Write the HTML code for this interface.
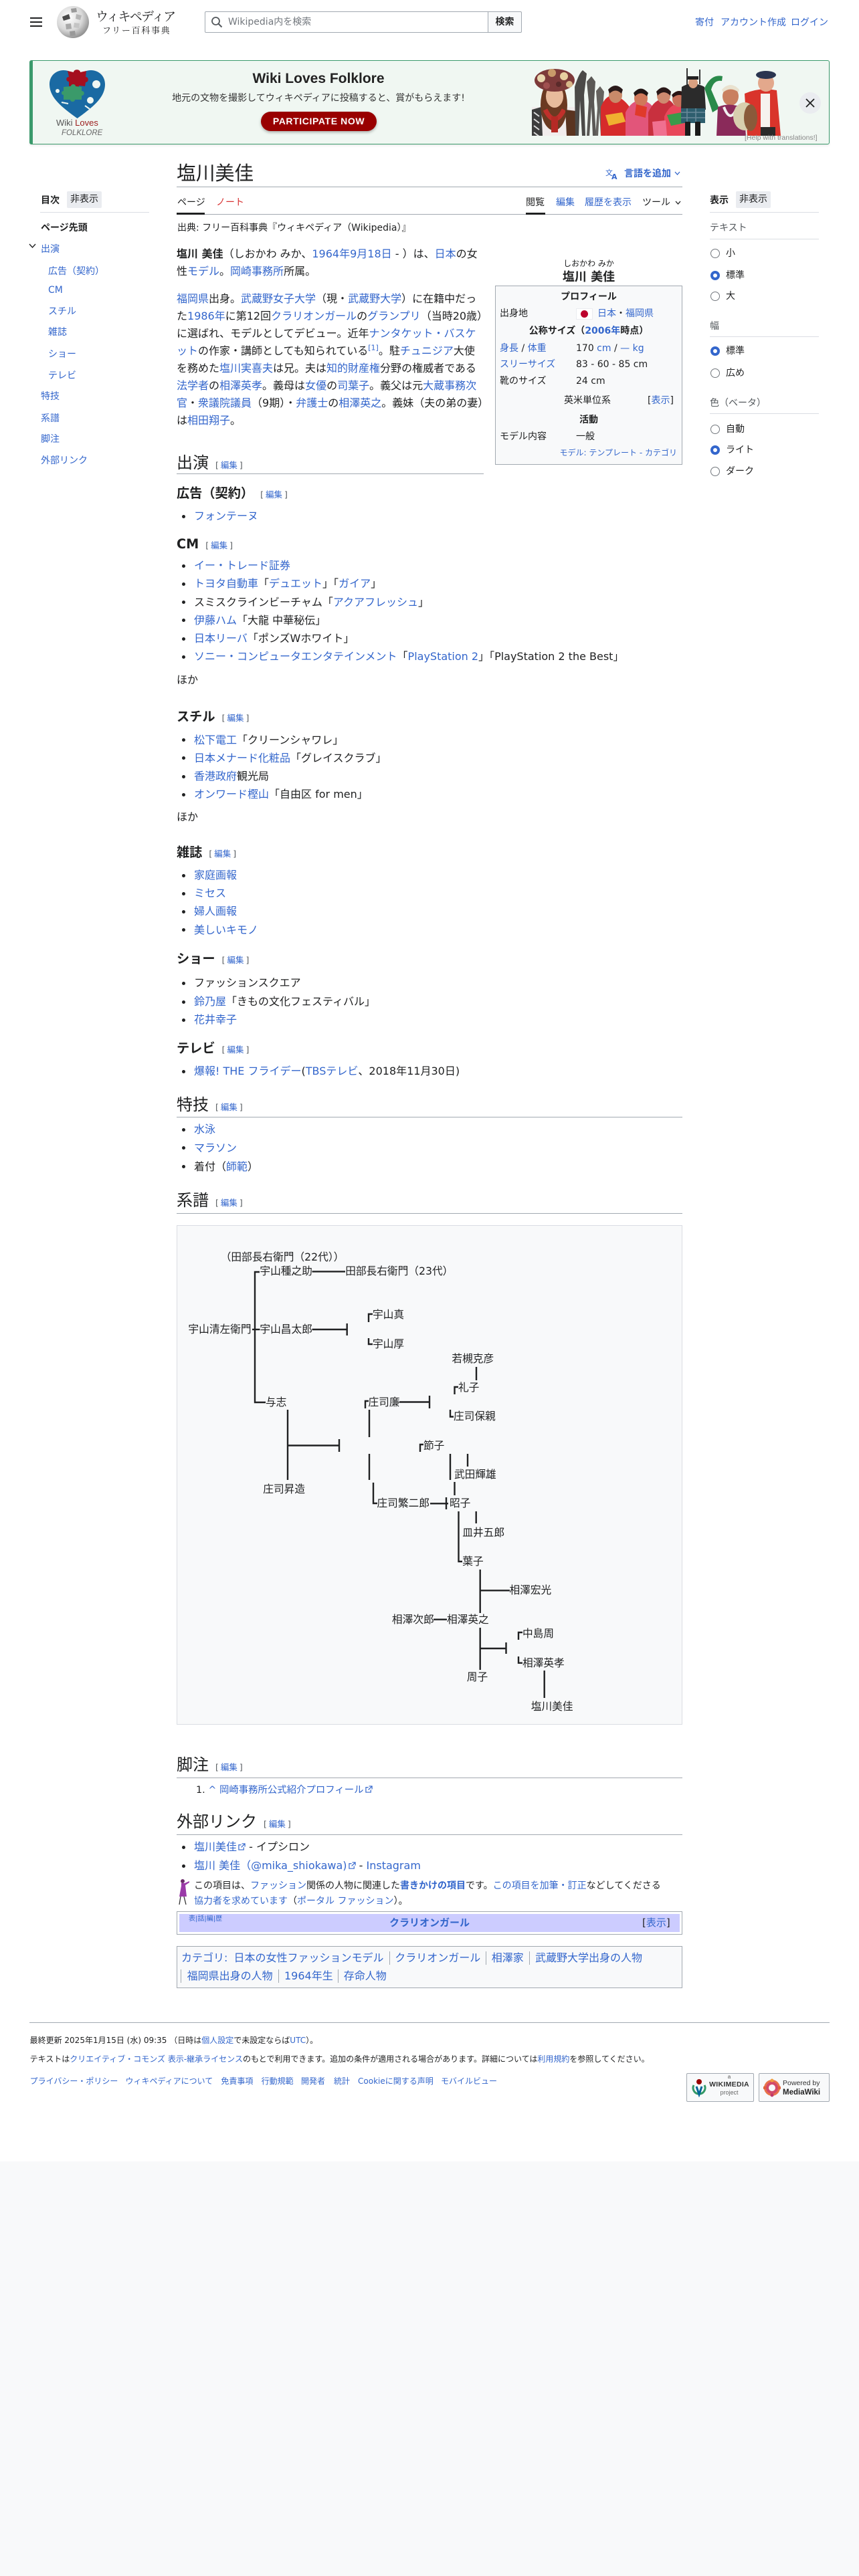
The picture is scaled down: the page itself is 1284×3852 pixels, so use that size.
<!DOCTYPE html>
<html lang="ja"><head><meta charset="utf-8"><title>塩川美佳 - Wikipedia</title>
<style>
html,body{margin:0;padding:0}
body{background:#f8f9fa;width:1284px;height:3852px;font-family:"DejaVu Sans","Noto Sans CJK JP",sans-serif;color:#202122;overflow:hidden}
#pg{position:relative;width:1284px;height:3232px;background:#fff}
.t{position:absolute;white-space:nowrap}
.b{color:#36c}
.r{color:#d73333}
.g{color:#54595d}
.s14{font-size:14px;line-height:20px}
.s16{font-size:16px;line-height:26px}
.s12{font-size:12px;line-height:16px}
.h2{font-family:"Noto Sans CJK JP","DejaVu Sans",sans-serif;font-size:24px;line-height:30px}
.h3{font-size:19.2px;line-height:24px;font-weight:bold}
.es{font-size:12.5px;font-weight:normal;margin-left:10px;font-family:"DejaVu Sans","Noto Sans CJK JP",sans-serif}
.es .b{margin:0 3px}
.hr{position:absolute;height:1px;background:#a2a9b1}
.sl{position:absolute;height:1px;background:#dadde3}
.bl{position:absolute;width:5px;height:5px;border-radius:50%;background:#202122;left:272px}
.tr{position:absolute;white-space:nowrap;font-size:15.7px;line-height:20px}
.rd{position:absolute;left:1062px;width:14px;height:14px;box-sizing:border-box;border-radius:50%;border:1px solid #72777d;background:#fff}
.rd.on{border:4px solid #36c}
.btn{position:absolute;background:#eaecf0;border-radius:2px;text-align:center;font-size:14px;line-height:25px;height:25px}
sup{font-size:11px;line-height:0}
</style></head><body><div id="pg">

<!-- HEADER -->
<div class="t" style="left:45px;top:26px;width:18px;height:2px;background:#202122"></div>
<div class="t" style="left:45px;top:32px;width:18px;height:2px;background:#202122"></div>
<div class="t" style="left:45px;top:38px;width:18px;height:2px;background:#202122"></div>
<svg class="t" style="left:84px;top:8px" width="50" height="50" viewBox="0 0 50 50">
<defs><radialGradient id="gl" cx="0.38" cy="0.35" r="0.75"><stop offset="0" stop-color="#ffffff"/><stop offset="0.55" stop-color="#d8d8d8"/><stop offset="1" stop-color="#7d7d7d"/></radialGradient></defs>
<circle cx="25" cy="25" r="24" fill="url(#gl)"/>
<path d="M9 17 L19 13 L21 20 L11 23 Z" fill="#4a4a4a"/>
<path d="M22 5 L30 4 L31 10 L23 11 Z" fill="#9a9a9a"/>
<path d="M30 13 L38 15 L36 22 L29 20 Z" fill="#b5b5b5"/>
<path d="M14 28 L22 27 L23 35 L15 36 Z" fill="#a8a8a8"/>
<path d="M27 26 L35 27 L34 34 L26 33 Z" fill="#c4c4c4"/>
<path d="M20 39 L28 38 L29 45 L21 46 Z" fill="#999"/>
</svg>
<div class="t" style="left:143px;top:12px;font-family:'Noto Serif CJK SC','Noto Serif CJK JP',serif;font-size:19px;line-height:24px;letter-spacing:-1.7px;color:#202122">ウィキペディア</div>
<div class="t" style="left:153px;top:37px;font-family:'Noto Serif CJK SC','Noto Serif CJK JP',serif;font-size:13px;line-height:16px;letter-spacing:1.7px;color:#202122">フリー百科事典</div>

<div class="t" style="left:306px;top:17px;width:424px;height:32px;box-sizing:border-box;border:1px solid #a2a9b1;border-radius:2px 0 0 2px;background:#fff"></div>
<svg class="t" style="left:315px;top:24px" width="18" height="18" viewBox="0 0 18 18"><circle cx="7.5" cy="7.5" r="5.5" fill="none" stroke="#54595d" stroke-width="1.8"/><path d="M11.5 11.5 L16.5 16.5" stroke="#54595d" stroke-width="2"/></svg>
<div class="t s14" style="left:341px;top:23px;color:#72777d">Wikipedia内を検索</div>
<div class="t" style="left:729px;top:17px;width:51px;height:32px;box-sizing:border-box;border:1px solid #a2a9b1;border-radius:0 2px 2px 0;background:#f8f9fa;font-size:14px;line-height:30px;text-align:center;font-weight:bold">検索</div>

<div class="t b s14" style="left:1039px;top:24px">寄付</div>
<div class="t b s14" style="left:1077px;top:24px">アカウント作成</div>
<div class="t b s14" style="left:1182px;top:24px">ログイン</div>

<!-- BANNER -->
<div class="t" style="left:44px;top:90px;width:1196px;height:126px;box-sizing:border-box;border:1px solid #3b9a6c;border-left:5px solid #3b9a6c;background:#f0f7f2;border-radius:3px;box-shadow:0 2px 3px rgba(0,0,0,0.08)"></div>
<svg class="t" style="left:72px;top:103px" width="87" height="75" viewBox="0 0 87 75">
<path d="M43.5 74 C20 57 2 43 2 23 C2 10 12 2 23 2 C32 2 39 7 43.5 13 C48 7 55 2 64 2 C75 2 85 10 85 23 C85 43 67 57 43.5 74 Z" fill="#1a6aa3"/>
<path d="M29 3 L38 5 C38 0 48 0 48 5 L57 3 L56 12 C61 12 61 20 56 20 L55 26 L46 25 C46 30 40 30 40 25 L31 26 L31 19 C26 19 26 12 31 12 Z" fill="#a50f1f"/>
<path d="M23 27 L34 26 C34 22 41 22 41 26 L50 27 L50 33 C55 33 55 40 50 40 L50 46 L40 46 C40 50 33 50 33 46 L23 46 L23 39 C19 39 19 33 23 33 Z" fill="#3a9a6a"/>
<circle cx="72" cy="23" r="6" fill="#f0f7f2"/>
<circle cx="63" cy="47" r="5" fill="#f0f7f2"/>
<circle cx="14" cy="33" r="3" fill="#f0f7f2"/>
<path d="M20 50 L30 52 M55 55 L62 60" stroke="#f0f7f2" stroke-width="2"/>
</svg>
<div class="t" style="left:84px;top:176px;font-size:13px;line-height:16px;font-family:'Liberation Sans',sans-serif"><span style="color:#555">Wiki</span> <span style="color:#9b1b1b">Loves</span></div>
<div class="t" style="left:92px;top:192px;font-size:11.5px;line-height:14px;font-style:italic;color:#666;font-family:'Liberation Sans',sans-serif">FOLKLORE</div>
<div class="t" style="left:276px;top:105px;width:400px;text-align:center;font-family:'Liberation Sans',sans-serif;font-weight:bold;font-size:21px;line-height:26px;color:#222">Wiki Loves Folklore</div>
<div class="t" style="left:226px;top:137px;width:500px;text-align:center;font-size:14px;line-height:20px;color:#333">地元の文物を撮影してウィキペディアに投稿すると、賞がもらえます!</div>
<div class="t" style="left:390px;top:167px;width:173px;height:29px;background:#990000;border-radius:15px;box-shadow:0 2px 4px rgba(0,0,0,0.3);color:#fff;font-family:'Liberation Sans',sans-serif;font-weight:bold;font-size:14px;line-height:29px;text-align:center;letter-spacing:0.6px">PARTICIPATE NOW</div>
<svg class="t" style="left:795px;top:102px" width="373" height="101" viewBox="0 0 373 101">
<!-- woman with flower crown -->
<rect x="0" y="58" width="66" height="43" fill="#f1ecec"/>
<path d="M0 62 L14 58 L16 101 L0 101 Z" fill="#3d3d3d"/>
<path d="M3 66 l8 6 m-8 4 l8 6 m-8 4 l8 6 m-8 4 l8 6" stroke="#ddd" stroke-width="2"/>
<ellipse cx="33" cy="55" rx="20" ry="38" fill="#6b3a22"/>
<ellipse cx="34" cy="42" rx="13" ry="17" fill="#e8bb9c"/>
<ellipse cx="34" cy="18" rx="30" ry="17" fill="#7d3a3a"/>
<circle cx="14" cy="15" r="6" fill="#e9d7b0"/><circle cx="30" cy="7" r="6" fill="#c99a6a"/><circle cx="48" cy="12" r="6" fill="#e7cfa0"/><circle cx="22" cy="26" r="5" fill="#a05050"/><circle cx="56" cy="24" r="5" fill="#d8b88a"/><circle cx="40" cy="24" r="4" fill="#5a2a2a"/>
<path d="M20 62 Q34 90 48 62" fill="none" stroke="#c0302b" stroke-width="7"/>
<rect x="29" y="72" width="10" height="24" fill="#b52a25"/>
<path d="M50 62 L66 64 L66 101 L52 101 Z" fill="#5a3420"/>
<!-- stilt walkers -->
<path d="M64 28 Q70 8 76 3 L82 8 L78 40 L80 101 L75 101 L72 48 L70 101 L65 101 Z" fill="#4b4a48"/>
<path d="M82 20 L89 12 L95 20 L93 50 L96 101 L91 101 L89 58 L86 101 L82 101 L85 50 Z" fill="#5a5855"/>
<path d="M96 34 L102 27 L108 35 L106 60 L108 101 L103 101 L101 66 L99 101 L95 101 L98 60 Z" fill="#66635f"/>
<!-- women group -->
<path d="M103 58 Q112 36 127 42 Q142 48 152 68 L152 101 L103 101 Z" fill="#d62b2b"/>
<ellipse cx="125" cy="40" rx="10" ry="12" fill="#c98a6a"/><path d="M114 32 Q125 20 136 32 L134 38 Q125 29 116 38 Z" fill="#2a1a1a"/>
<path d="M110 70 L135 66 L140 80 L115 86 Z" fill="#f0b030"/>
<path d="M140 66 Q150 46 166 48 Q182 52 188 72 L188 101 L140 101 Z" fill="#e2557a"/>
<ellipse cx="163" cy="45" rx="10" ry="12" fill="#d0785a"/><path d="M152 37 Q163 24 174 37 L172 42 Q163 33 154 42 Z" fill="#221515"/>
<path d="M156 54 L172 58 L170 74 L154 70 Z" fill="#e03a2a"/>
<path d="M174 66 Q184 44 200 46 Q214 48 218 72 L218 101 L174 101 Z" fill="#c8303e"/>
<ellipse cx="197" cy="41" rx="10" ry="12" fill="#cf8a70"/><path d="M186 35 Q197 22 208 35 L207 41 Q197 31 188 41 Z" fill="#2a1818"/>
<path d="M198 72 Q208 50 224 54 Q236 58 234 101 L198 101 Z" fill="#e8475a"/>
<ellipse cx="220" cy="46" rx="10" ry="12" fill="#c9715a"/><path d="M209 40 Q220 28 231 40 L230 44 Q220 36 211 44 Z" fill="#2a1515"/>
<path d="M202 70 L230 65 L228 82 L208 86 Z" fill="#3a9a4a"/>
<path d="M180 80 L200 78 L202 101 L182 101 Z" fill="#f07090"/>
<!-- bagpiper -->
<rect x="231" y="0" width="2" height="25" fill="#333"/>
<rect x="250" y="2" width="2" height="22" fill="#333"/>
<path d="M224 28 Q240 18 258 28 L260 62 L223 62 Z" fill="#2b2b2b"/>
<ellipse cx="241" cy="22" rx="7" ry="8" fill="#d9a080"/>
<rect x="233" y="12" width="16" height="5" fill="#222"/>
<rect x="223" y="60" width="36" height="22" fill="#2e5e6e"/>
<path d="M223 66 h36 M223 74 h36 M232 60 v22 M245 60 v22" stroke="#6a8a9a" stroke-width="1.5"/>
<rect x="229" y="80" width="8" height="21" fill="#1a1a1a"/><rect x="244" y="80" width="8" height="21" fill="#1a1a1a"/>
<!-- dancer -->
<path d="M258 30 Q268 8 285 12 L284 19 Q272 17 268 32 L280 60 L270 66 Z" fill="#2a8a4a"/>
<ellipse cx="297" cy="42" rx="12" ry="14" fill="#c98060"/>
<path d="M284 32 Q297 18 310 32 L309 36 Q297 27 286 36 Z" fill="#e9e2cf"/>
<path d="M278 58 Q297 50 317 60 L320 101 L276 101 Z" fill="#8a2a5a"/>
<path d="M287 58 Q297 84 307 58" fill="none" stroke="#f0f0f0" stroke-width="4"/>
<path d="M312 58 L332 52 L334 61 L315 68 Z" fill="#2a8a4a"/>
<!-- drummer -->
<path d="M318 38 Q340 28 366 33 L372 101 L322 101 Z" fill="#d9342b"/>
<rect x="342" y="38" width="14" height="52" fill="#f6f2ee"/>
<ellipse cx="350" cy="22" rx="12" ry="13" fill="#e3a88c"/>
<ellipse cx="350" cy="10" rx="15" ry="6" fill="#2b3550"/>
<ellipse cx="318" cy="72" rx="17" ry="21" fill="#d8cfae"/>
<ellipse cx="327" cy="74" rx="10" ry="20" fill="#8a5a3a"/>
<rect x="342" y="88" width="22" height="13" fill="#2a2a2a"/>
</svg>
<div class="t" style="left:1195px;top:138px;width:32px;height:32px;border-radius:50%;background:#eaecf0"></div>
<svg class="t" style="left:1204px;top:147px" width="14" height="14" viewBox="0 0 14 14"><path d="M1 1 L13 13 M13 1 L1 13" stroke="#202122" stroke-width="1.8"/></svg>
<div class="t" style="left:1113px;top:199px;font-size:10.5px;line-height:14px;color:#888;font-family:'Liberation Sans',sans-serif">[Help with translations!]</div>

<!-- LEFT SIDEBAR -->
<div class="t s14" style="left:61px;top:290px;font-weight:bold">目次</div>
<div class="btn" style="left:100px;top:286px;width:52px">非表示</div>
<div class="sl" style="left:60px;top:317px;width:163px"></div>
<div class="t s14" style="left:61px;top:331px;font-weight:bold">ページ先頭</div>
<svg class="t" style="left:43px;top:364px" width="11" height="8" viewBox="0 0 11 8"><path d="M1 1 L5.5 6 L10 1" fill="none" stroke="#202122" stroke-width="1.4"/></svg>
<div class="t s14 b" style="left:61px;top:363px">出演</div>
<div class="t s14 b" style="left:72px;top:396px">広告（契約）</div>
<div class="t s14 b" style="left:72px;top:424px">CM</div>
<div class="t s14 b" style="left:72px;top:456px">スチル</div>
<div class="t s14 b" style="left:72px;top:487px">雑誌</div>
<div class="t s14 b" style="left:72px;top:520px">ショー</div>
<div class="t s14 b" style="left:72px;top:552px">テレビ</div>
<div class="t s14 b" style="left:61px;top:583px">特技</div>
<div class="t s14 b" style="left:61px;top:616px">系譜</div>
<div class="t s14 b" style="left:61px;top:647px">脚注</div>
<div class="t s14 b" style="left:61px;top:679px">外部リンク</div>

<!-- RIGHT SIDEBAR -->
<div class="t s14" style="left:1061px;top:290px;font-weight:bold">表示</div>
<div class="btn" style="left:1100px;top:286px;width:52px">非表示</div>
<div class="sl" style="left:1061px;top:317px;width:163px"></div>
<div class="t s14 g" style="left:1061px;top:331px">テキスト</div>
<div class="sl" style="left:1061px;top:357px;width:163px"></div>
<div class="rd" style="top:372px"></div><div class="t s14" style="left:1085px;top:369px">小</div>
<div class="rd on" style="top:405px"></div><div class="t s14" style="left:1085px;top:402px">標準</div>
<div class="rd" style="top:436px"></div><div class="t s14" style="left:1085px;top:433px">大</div>
<div class="t s14 g" style="left:1061px;top:478px">幅</div>
<div class="sl" style="left:1061px;top:503px;width:163px"></div>
<div class="rd on" style="top:518px"></div><div class="t s14" style="left:1085px;top:515px">標準</div>
<div class="rd" style="top:551px"></div><div class="t s14" style="left:1085px;top:548px">広め</div>
<div class="t s14 g" style="left:1061px;top:593px">色（ベータ）</div>
<div class="sl" style="left:1061px;top:618px;width:163px"></div>
<div class="rd" style="top:635px"></div><div class="t s14" style="left:1085px;top:632px">自動</div>
<div class="rd on" style="top:666px"></div><div class="t s14" style="left:1085px;top:663px">ライト</div>
<div class="rd" style="top:698px"></div><div class="t s14" style="left:1085px;top:695px">ダーク</div>

<!-- TITLE + TABS -->
<div class="t" style="left:264px;top:240px;font-family:'Noto Sans CJK JP',sans-serif;font-size:28.8px;line-height:36px">塩川美佳</div>
<svg class="t" style="left:905px;top:251px" width="20" height="18" viewBox="0 0 20 18"><text x="0" y="11" font-size="11" fill="#36c" font-family="Noto Sans CJK JP, sans-serif">文</text><text x="9" y="17" font-size="11" fill="#36c" font-family="DejaVu Sans, sans-serif" font-weight="bold">A</text></svg>
<div class="t s14 b" style="left:933px;top:250px;font-weight:bold">言語を追加</div>
<svg class="t" style="left:1008px;top:256px" width="9" height="6" viewBox="0 0 9 6"><path d="M1 1 L4.5 5 L8 1" fill="none" stroke="#36c" stroke-width="1.3"/></svg>
<div class="hr" style="left:264px;top:279px;width:756px"></div>

<div class="t s14" style="left:265px;top:293px">ページ</div>
<div class="t s14 r" style="left:323px;top:293px">ノート</div>
<div class="t s14" style="left:786px;top:293px">閲覧</div>
<div class="t s14 b" style="left:831px;top:293px">編集</div>
<div class="t s14 b" style="left:874px;top:293px">履歴を表示</div>
<div class="t s14" style="left:960px;top:293px">ツール</div>
<svg class="t" style="left:1009px;top:300px" width="9" height="6" viewBox="0 0 9 6"><path d="M1 1 L4.5 5 L8 1" fill="none" stroke="#202122" stroke-width="1.3"/></svg>
<div class="hr" style="left:264px;top:320px;width:756px"></div>
<div class="t" style="left:264px;top:318px;width:42px;height:3px;background:#202122"></div>
<div class="t" style="left:786px;top:318px;width:29px;height:3px;background:#202122"></div>

<div class="t s14" style="left:265px;top:331px">出典: フリー百科事典『ウィキペディア（Wikipedia）』</div>

<!-- INTRO -->
<div class="t s16" style="left:264px;top:367px"><b>塩川 美佳</b>（しおかわ みか、<span class="b">1964年</span><span class="b">9月18日</span> - ）は、<span class="b">日本</span>の女</div>
<div class="t s16" style="left:264px;top:393px">性<span class="b">モデル</span>。<span class="b">岡崎事務所</span>所属。</div>

<div class="t s16" style="left:264px;top:434px"><span class="b">福岡県</span>出身。<span class="b">武蔵野女子大学</span>（現・<span class="b">武蔵野大学</span>）に在籍中だっ</div>
<div class="t s16" style="left:264px;top:460px">た<span class="b">1986年</span>に第12回<span class="b">クラリオンガール</span>の<span class="b">グランプリ</span>（当時20歳）</div>
<div class="t s16" style="left:264px;top:486px">に選ばれ、モデルとしてデビュー。近年<span class="b">ナンタケット・バスケ</span></div>
<div class="t s16" style="left:264px;top:512px"><span class="b">ット</span>の作家・講師としても知られている<sup class="b">[1]</sup>。駐<span class="b">チュニジア</span>大使</div>
<div class="t s16" style="left:264px;top:538px">を務めた<span class="b">塩川実喜夫</span>は兄。夫は<span class="b">知的財産権</span>分野の権威者である</div>
<div class="t s16" style="left:264px;top:564px"><span class="b">法学者</span>の<span class="b">相澤英孝</span>。義母は<span class="b">女優</span>の<span class="b">司葉子</span>。義父は元<span class="b">大蔵事務次</span></div>
<div class="t s16" style="left:264px;top:590px"><span class="b">官</span>・<span class="b">衆議院議員</span>（9期）・<span class="b">弁護士</span>の<span class="b">相澤英之</span>。義妹（夫の弟の妻）</div>
<div class="t s16" style="left:264px;top:616px">は<span class="b">相田翔子</span>。</div>

<!-- INFOBOX -->
<div class="t s12" style="left:740px;top:386px;width:280px;text-align:center">しおかわ みか</div>
<div class="t" style="left:740px;top:403px;width:280px;text-align:center;font-weight:bold;font-size:18px;line-height:24px">塩川 美佳</div>
<div class="t" style="left:740px;top:427px;width:280px;height:268px;box-sizing:border-box;border:1px solid #a2a9b1;background:#f8f9fa"></div>
<div class="t s14" style="left:740px;top:434px;width:280px;text-align:center;font-weight:bold">プロフィール</div>
<div class="t s14" style="left:747px;top:459px">出身地</div>
<div class="t" style="left:861px;top:461px;width:25px;height:17px;box-sizing:border-box;border:1px solid #eaecf0;background:#fff"></div>
<div class="t" style="left:868px;top:464px;width:11px;height:11px;border-radius:50%;background:#bc002d"></div>
<div class="t s14" style="left:893px;top:459px"><span class="b">日本</span>・<span class="b">福岡県</span></div>
<div class="t s14" style="left:740px;top:485px;width:280px;text-align:center;font-weight:bold">公称サイズ（<span class="b">2006年</span>時点）</div>
<div class="t s14" style="left:747px;top:511px"><span class="b">身長</span> / <span class="b">体重</span></div>
<div class="t s14" style="left:861px;top:511px">170 <span class="b">cm</span> / <span class="b">— kg</span></div>
<div class="t s14 b" style="left:747px;top:535px">スリーサイズ</div>
<div class="t s14" style="left:861px;top:535px">83 - 60 - 85 cm</div>
<div class="t s14" style="left:747px;top:560px">靴のサイズ</div>
<div class="t s14" style="left:861px;top:560px">24 cm</div>
<div class="t s14" style="left:843px;top:589px">英米単位系</div>
<div class="t s14" style="left:968px;top:589px">[<span class="b">表示</span>]</div>
<div class="t s14" style="left:740px;top:618px;width:280px;text-align:center;font-weight:bold">活動</div>
<div class="t s14" style="left:747px;top:643px">モデル内容</div>
<div class="t s14" style="left:861px;top:643px">一般</div>
<div class="t s12 b" style="left:740px;top:669px;width:272px;text-align:right">モデル: テンプレート - カテゴリ</div>

<!-- 出演 -->
<div class="t h2" style="left:264px;top:675px">出演<span class="es"><span class="g">[</span><span class="b">編集</span><span class="g">]</span></span></div>
<div class="hr" style="left:264px;top:708px;width:459px"></div>

<div class="t h3" style="left:264px;top:726px">広告（契約）<span class="es"><span class="g">[</span><span class="b">編集</span><span class="g">]</span></span></div>
<div class="bl" style="top:769.5px"></div><div class="t s16 b" style="left:290px;top:759px">フォンテーヌ</div>

<div class="t h3" style="left:264px;top:801.5px">CM<span class="es"><span class="g">[</span><span class="b">編集</span><span class="g">]</span></span></div>
<div class="bl" style="top:843.5px"></div><div class="t s16 b" style="left:290px;top:833px">イー・トレード証券</div>
<div class="bl" style="top:870.5px"></div><div class="t s16" style="left:290px;top:860px"><span class="b">トヨタ自動車</span>「<span class="b">デュエット</span>」「<span class="b">ガイア</span>」</div>
<div class="bl" style="top:898px"></div><div class="t s16" style="left:290px;top:887.5px">スミスクラインビーチャム「<span class="b">アクアフレッシュ</span>」</div>
<div class="bl" style="top:925px"></div><div class="t s16" style="left:290px;top:914.5px"><span class="b">伊藤ハム</span>「大龍 中華秘伝」</div>
<div class="bl" style="top:952.5px"></div><div class="t s16" style="left:290px;top:942px"><span class="b">日本リーバ</span>「ポンズWホワイト」</div>
<div class="bl" style="top:979.5px"></div><div class="t s16" style="left:290px;top:969px"><span class="b">ソニー・コンピュータエンタテインメント</span>「<span class="b">PlayStation 2</span>」「PlayStation 2 the Best」</div>
<div class="t s16" style="left:264px;top:1004px">ほか</div>

<div class="t h3" style="left:264px;top:1060px">スチル<span class="es"><span class="g">[</span><span class="b">編集</span><span class="g">]</span></span></div>
<div class="bl" style="top:1104px"></div><div class="t s16" style="left:290px;top:1093.5px"><span class="b">松下電工</span>「クリーンシャワレ」</div>
<div class="bl" style="top:1131.2px"></div><div class="t s16" style="left:290px;top:1120.7px"><span class="b">日本メナード化粧品</span>「グレイスクラブ」</div>
<div class="bl" style="top:1158.5px"></div><div class="t s16" style="left:290px;top:1148px"><span class="b">香港政府</span>観光局</div>
<div class="bl" style="top:1185.5px"></div><div class="t s16" style="left:290px;top:1175px"><span class="b">オンワード樫山</span>「自由区 for men」</div>
<div class="t s16" style="left:264px;top:1208.5px">ほか</div>

<div class="t h3" style="left:264px;top:1263px">雑誌<span class="es"><span class="g">[</span><span class="b">編集</span><span class="g">]</span></span></div>
<div class="bl" style="top:1306.5px"></div><div class="t s16 b" style="left:290px;top:1296px">家庭画報</div>
<div class="bl" style="top:1333.5px"></div><div class="t s16 b" style="left:290px;top:1323px">ミセス</div>
<div class="bl" style="top:1360.5px"></div><div class="t s16 b" style="left:290px;top:1350px">婦人画報</div>
<div class="bl" style="top:1388px"></div><div class="t s16 b" style="left:290px;top:1377.5px">美しいキモノ</div>

<div class="t h3" style="left:264px;top:1422px">ショー<span class="es"><span class="g">[</span><span class="b">編集</span><span class="g">]</span></span></div>
<div class="bl" style="top:1467.5px"></div><div class="t s16" style="left:290px;top:1457px">ファッションスクエア</div>
<div class="bl" style="top:1495.5px"></div><div class="t s16" style="left:290px;top:1485px"><span class="b">鈴乃屋</span>「きもの文化フェスティバル」</div>
<div class="bl" style="top:1522.5px"></div><div class="t s16 b" style="left:290px;top:1512px">花井幸子</div>

<div class="t h3" style="left:264px;top:1556px">テレビ<span class="es"><span class="g">[</span><span class="b">編集</span><span class="g">]</span></span></div>
<div class="bl" style="top:1599.5px"></div><div class="t s16" style="left:290px;top:1589px"><span class="b">爆報! THE フライデー</span>(<span class="b">TBSテレビ</span>、2018年11月30日)</div>

<!-- 特技 -->
<div class="t h2" style="left:264px;top:1635px">特技<span class="es"><span class="g">[</span><span class="b">編集</span><span class="g">]</span></span></div>
<div class="hr" style="left:264px;top:1670px;width:756px"></div>
<div class="bl" style="top:1686.5px"></div><div class="t s16 b" style="left:290px;top:1676px">水泳</div>
<div class="bl" style="top:1714px"></div><div class="t s16 b" style="left:290px;top:1703.5px">マラソン</div>
<div class="bl" style="top:1742px"></div><div class="t s16" style="left:290px;top:1731.5px">着付（<span class="b">師範</span>）</div>

<!-- 系譜 -->
<div class="t h2" style="left:264px;top:1778px">系譜<span class="es"><span class="g">[</span><span class="b">編集</span><span class="g">]</span></span></div>
<div class="hr" style="left:264px;top:1814px;width:756px"></div>
<div class="t" style="left:264px;top:1832px;width:756px;height:747px;box-sizing:border-box;border:1px solid #dadde3;background:#f8f9fa"></div>

<div class="tr" style="left:329.7px;top:1869.7px">（田部長右衛門（22代））</div>
<div class="tr" style="left:388.4px;top:1891.4px">宇山種之助</div>
<div class="tr" style="left:516.2px;top:1891.4px">田部長右衛門（23代）</div>
<div class="tr" style="left:557px;top:1956.4px">宇山真</div>
<div class="tr" style="left:281.4px;top:1978.1px">宇山清左衛門</div>
<div class="tr" style="left:388.4px;top:1978.1px">宇山昌太郎</div>
<div class="tr" style="left:557px;top:1999.8px">宇山厚</div>
<div class="tr" style="left:675.4px;top:2021.5px">若槻克彦</div>
<div class="tr" style="left:685px;top:2064.8px">礼子</div>
<div class="tr" style="left:397px;top:2086.5px">与志</div>
<div class="tr" style="left:550.5px;top:2086.5px">庄司廉</div>
<div class="tr" style="left:678px;top:2108.2px">庄司保親</div>
<div class="tr" style="left:633px;top:2151.5px">節子</div>
<div class="tr" style="left:679px;top:2194.9px">武田輝雄</div>
<div class="tr" style="left:393.3px;top:2216.6px">庄司昇造</div>
<div class="tr" style="left:563.5px;top:2238.3px">庄司繁二郎</div>
<div class="tr" style="left:672px;top:2238.3px">昭子</div>
<div class="tr" style="left:691.3px;top:2281.6px">皿井五郎</div>
<div class="tr" style="left:691.3px;top:2325px">葉子</div>
<div class="tr" style="left:761.5px;top:2368.3px">相澤宏光</div>
<div class="tr" style="left:585.9px;top:2411.7px">相澤次郎</div>
<div class="tr" style="left:668px;top:2411.7px">相澤英之</div>
<div class="tr" style="left:781px;top:2433.4px">中島周</div>
<div class="tr" style="left:781px;top:2476.7px">相澤英孝</div>
<div class="tr" style="left:697.8px;top:2498.4px">周子</div>
<div class="tr" style="left:793.8px;top:2541.8px">塩川美佳</div>

<svg class="t" style="left:0;top:0;pointer-events:none" width="1284" height="2600" viewBox="0 0 1284 2600">
<g fill="none" stroke="#202122" stroke-width="2.4">
<path d="M388,1902 H381 V2097 H397"/>
<path d="M466.5,1901.4 H516"/>
<path d="M377,1988 H388.5"/>
<path d="M466.5,1988 H518.7 M518.7,1979 V1997"/>
<path d="M557,1965 H551 V1977"/>
<path d="M551,2001 V2010 H557"/>
<path d="M712,2044 V2064"/>
<path d="M685,2074 H679.5 V2085"/>
<path d="M551,2095 H546 V2106 M552,2108 V2149 M552,2174 V2213 M558,2217 V2248 H564"/>
<path d="M597,2096.5 H642 M642,2087 V2106"/>
<path d="M673,2108 V2118.5 H678"/>
<path d="M430,2108 V2213 M430,2161.5 H507 M507,2152 V2171"/>
<path d="M633,2160 H628 V2171"/>
<path d="M673,2174 V2213 M699,2174 V2193"/>
<path d="M679.5,2216 V2236"/>
<path d="M643,2248.3 H670 M667,2239 V2257"/>
<path d="M685.5,2260 V2335 H691 M711.7,2260 V2278"/>
<path d="M717.7,2347 V2412 M717.7,2378.3 H762"/>
<path d="M648,2421.7 H668"/>
<path d="M717.7,2434 V2497 M717.7,2465 H756.5 M756.5,2456 V2473"/>
<path d="M781,2441 H775 V2452"/>
<path d="M775,2477 V2486.7 H781"/>
<path d="M813.7,2498 V2539"/>
</g></svg>

<!-- 脚注 -->
<div class="t h2" style="left:264px;top:2622px">脚注<span class="es"><span class="g">[</span><span class="b">編集</span><span class="g">]</span></span></div>
<div class="hr" style="left:264px;top:2658px;width:756px"></div>
<div class="t" style="left:293px;top:2666px;font-size:14.4px;line-height:22px">1. <span class="b">^</span> <span class="b">岡崎事務所公式紹介プロフィール</span><svg width="11" height="11" viewBox="0 0 12 12" style="margin-left:2px"><path d="M6 1h5v5M11 1L5 7M9 7v4H1V3h4" fill="none" stroke="#36c" stroke-width="1.3"/></svg></div>

<!-- 外部リンク -->
<div class="t h2" style="left:264px;top:2707px">外部リンク<span class="es"><span class="g">[</span><span class="b">編集</span><span class="g">]</span></span></div>
<div class="hr" style="left:264px;top:2743px;width:756px"></div>
<div class="bl" style="top:2759.5px"></div><div class="t s16" style="left:290px;top:2749px"><span class="b">塩川美佳</span><svg width="11" height="11" viewBox="0 0 12 12" style="margin-left:2px"><path d="M6 1h5v5M11 1L5 7M9 7v4H1V3h4" fill="none" stroke="#36c" stroke-width="1.3"/></svg> - イプシロン</div>
<div class="bl" style="top:2787.5px"></div><div class="t s16" style="left:290px;top:2777px"><span class="b">塩川 美佳（@mika_shiokawa)</span><svg width="11" height="11" viewBox="0 0 12 12" style="margin-left:2px"><path d="M6 1h5v5M11 1L5 7M9 7v4H1V3h4" fill="none" stroke="#36c" stroke-width="1.3"/></svg> - <span class="b">Instagram</span></div>

<svg class="t" style="left:265px;top:2808px" width="20" height="42" viewBox="0 0 20 42">
<circle cx="8" cy="5" r="3" fill="#6a2a6a"/>
<path d="M6 8 L11 8 L18 5 L18 7 L12 11 L14 28 L3 28 L6 12 Z" fill="#9a3aa8"/>
<path d="M5 28 L3 40 M10 28 L13 40" stroke="#333" stroke-width="1.3"/>
</svg>
<div class="t" style="left:290px;top:2809px;font-size:14px;line-height:22px">この項目は、<span class="b">ファッション</span>関係の人物に関連した<b class="b">書きかけの項目</b>です。<span class="b">この項目を加筆・訂正</span>などしてくださる</div>
<div class="t" style="left:290px;top:2832px;font-size:14px;line-height:22px"><span class="b">協力者を求めています</span>（<span class="b">ポータル ファッション</span>）。</div>

<div class="t" style="left:264px;top:2858px;width:756px;height:35px;box-sizing:border-box;border:1px solid #a2a9b1;background:#fff"></div>
<div class="t" style="left:268px;top:2862px;width:748px;height:27px;background:#ccccff"></div>
<div class="t b" style="left:282px;top:2863px;font-size:10px;line-height:14px">表|話|編|歴</div>
<div class="t b" style="left:268px;top:2864px;width:748px;text-align:center;font-weight:bold;font-size:15px;line-height:22px">クラリオンガール</div>
<div class="t" style="left:960px;top:2864px;font-size:15px;line-height:22px">[<span class="b">表示</span>]</div>

<div class="t" style="left:264px;top:2910px;width:756px;height:63px;box-sizing:border-box;border:1px solid #a2a9b1;background:#f8f9fa"></div>
<div class="t s16 b" style="left:271px;top:2915px">カテゴリ:</div>
<div class="t s16 b" style="left:349.5px;top:2915px">日本の女性ファッションモデル</div>
<div class="t" style="left:581.6px;top:2918px;width:1px;height:20px;background:#a2a9b1"></div>
<div class="t s16 b" style="left:590.3px;top:2915px">クラリオンガール</div>
<div class="t" style="left:726px;top:2918px;width:1px;height:20px;background:#a2a9b1"></div>
<div class="t s16 b" style="left:734.7px;top:2915px">相澤家</div>
<div class="t" style="left:790.8px;top:2918px;width:1px;height:20px;background:#a2a9b1"></div>
<div class="t s16 b" style="left:800px;top:2915px">武蔵野大学出身の人物</div>
<div class="t" style="left:270.4px;top:2945px;width:1px;height:20px;background:#a2a9b1"></div>
<div class="t s16 b" style="left:279.6px;top:2942px">福岡県出身の人物</div>
<div class="t" style="left:415.8px;top:2945px;width:1px;height:20px;background:#a2a9b1"></div>
<div class="t s16 b" style="left:425px;top:2942px">1964年生</div>
<div class="t" style="left:505px;top:2945px;width:1px;height:20px;background:#a2a9b1"></div>
<div class="t s16 b" style="left:513.8px;top:2942px">存命人物</div>

<!-- FOOTER -->
<div class="hr" style="left:44px;top:3024px;width:1196px"></div>
<div class="t s12" style="left:44.6px;top:3043px">最終更新 2025年1月15日 (水) 09:35 （日時は<span class="b">個人設定</span>で未設定ならば<span class="b">UTC</span>）。</div>
<div class="t s12" style="left:44.6px;top:3071px">テキストは<span class="b">クリエイティブ・コモンズ 表示-継承ライセンス</span>のもとで利用できます。追加の条件が適用される場合があります。詳細については<span class="b">利用規約</span>を参照してください。</div>
<div class="t s12 b" style="left:44.6px;top:3104px">プライバシー・ポリシー</div>
<div class="t s12 b" style="left:187.5px;top:3104px">ウィキペディアについて</div>
<div class="t s12 b" style="left:330.4px;top:3104px">免責事項</div>
<div class="t s12 b" style="left:390.6px;top:3104px">行動規範</div>
<div class="t s12 b" style="left:450px;top:3104px">開発者</div>
<div class="t s12 b" style="left:499px;top:3104px">統計</div>
<div class="t s12 b" style="left:535px;top:3104px">Cookieに関する声明</div>
<div class="t s12 b" style="left:659px;top:3104px">モバイルビュー</div>

<div class="t" style="left:1026px;top:3100px;width:101px;height:43px;box-sizing:border-box;border:1px solid #a2a9b1;border-radius:2px;background:#f8f9fa"></div>
<svg class="t" style="left:1033px;top:3108px" width="24" height="28" viewBox="0 0 24 28">
<circle cx="12" cy="5" r="4" fill="#990000"/>
<path d="M4 10 A9 9 0 1 0 20 10" fill="none" stroke="#339966" stroke-width="3"/>
<path d="M8 12 L12 24 L16 12" fill="none" stroke="#006699" stroke-width="3"/>
</svg>
<div class="t" style="left:1058px;top:3101px;width:64px;text-align:center;font-size:8px;line-height:10px;color:#555;font-family:'Liberation Sans',sans-serif">a</div>
<div class="t" style="left:1058px;top:3111px;width:64px;text-align:center;font-size:10.5px;line-height:13px;font-weight:bold;color:#333;font-family:'Liberation Sans',sans-serif;letter-spacing:0.3px">WIKIMEDIA</div>
<div class="t" style="left:1058px;top:3124px;width:64px;text-align:center;font-size:9px;line-height:11px;color:#666;font-family:'Liberation Sans',sans-serif">project</div>

<div class="t" style="left:1134px;top:3100px;width:106px;height:43px;box-sizing:border-box;border:1px solid #a2a9b1;border-radius:2px;background:#f8f9fa"></div>
<svg class="t" style="left:1141px;top:3108px" width="26" height="28" viewBox="0 0 26 28">
<circle cx="13" cy="14" r="12" fill="#e8734a"/>
<circle cx="13" cy="14" r="9" fill="#d34a6a"/>
<circle cx="13" cy="14" r="5" fill="#f8f9fa"/>
<circle cx="13" cy="3" r="2.5" fill="#f0a040"/><circle cx="13" cy="25" r="2.5" fill="#c0396a"/><circle cx="2" cy="14" r="2.5" fill="#e0603a"/><circle cx="24" cy="14" r="2.5" fill="#e0603a"/>
</svg>
<div class="t" style="left:1170px;top:3109px;font-size:10.5px;line-height:13px;color:#333;font-family:'Liberation Sans',sans-serif">Powered by</div>
<div class="t" style="left:1170px;top:3122px;font-size:11.5px;line-height:14px;font-weight:bold;color:#222;font-family:'Liberation Sans',sans-serif">MediaWiki</div>

</div></body></html>
